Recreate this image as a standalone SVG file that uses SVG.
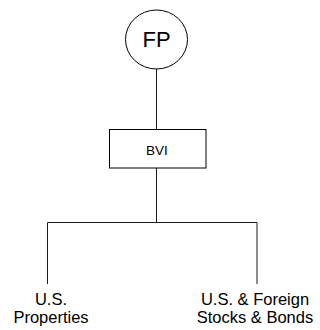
<svg xmlns="http://www.w3.org/2000/svg" width="320" height="330" viewBox="0 0 320 330">
  <style>
    .shape { fill: #ffffff; stroke: #000000; stroke-width: 1; }
    .wire { fill: none; stroke: #1a1a1a; stroke-width: 1; }
    .label { font-family: "Liberation Sans", Arial, sans-serif; fill: #000000; text-anchor: middle; }
  </style>
  <rect width="320" height="330" fill="#ffffff"/>
  <!-- connectors -->
  <g id="connectors">
    <line class="wire" x1="156.5" y1="69" x2="156.5" y2="129"/>
    <line class="wire" x1="156.5" y1="168" x2="156.5" y2="223"/>
    <polyline class="wire" points="47.5,284 47.5,222.5 257,222.5 257,284"/>
  </g>
  <!-- nodes -->
  <g id="fp">
    <ellipse class="shape" cx="156.5" cy="39.5" rx="31" ry="29.5"/>
    <text class="label" x="156.5" y="47" font-size="22">FP</text>
  </g>
  <g id="bvi">
    <rect class="shape" x="109.5" y="129.5" width="96.5" height="38.5"/>
    <text class="label" x="157" y="155" font-size="13.5">BVI</text>
  </g>
  <g id="us-properties">
    <text class="label" font-size="16.5"><tspan x="51" y="305">U.S.</tspan><tspan x="51" y="323">Properties</tspan></text>
  </g>
  <g id="us-foreign-stocks-bonds">
    <text class="label" font-size="16.5"><tspan x="255" y="305">U.S. &amp; Foreign</tspan><tspan x="255" y="323">Stocks &amp; Bonds</tspan></text>
  </g>
</svg>
